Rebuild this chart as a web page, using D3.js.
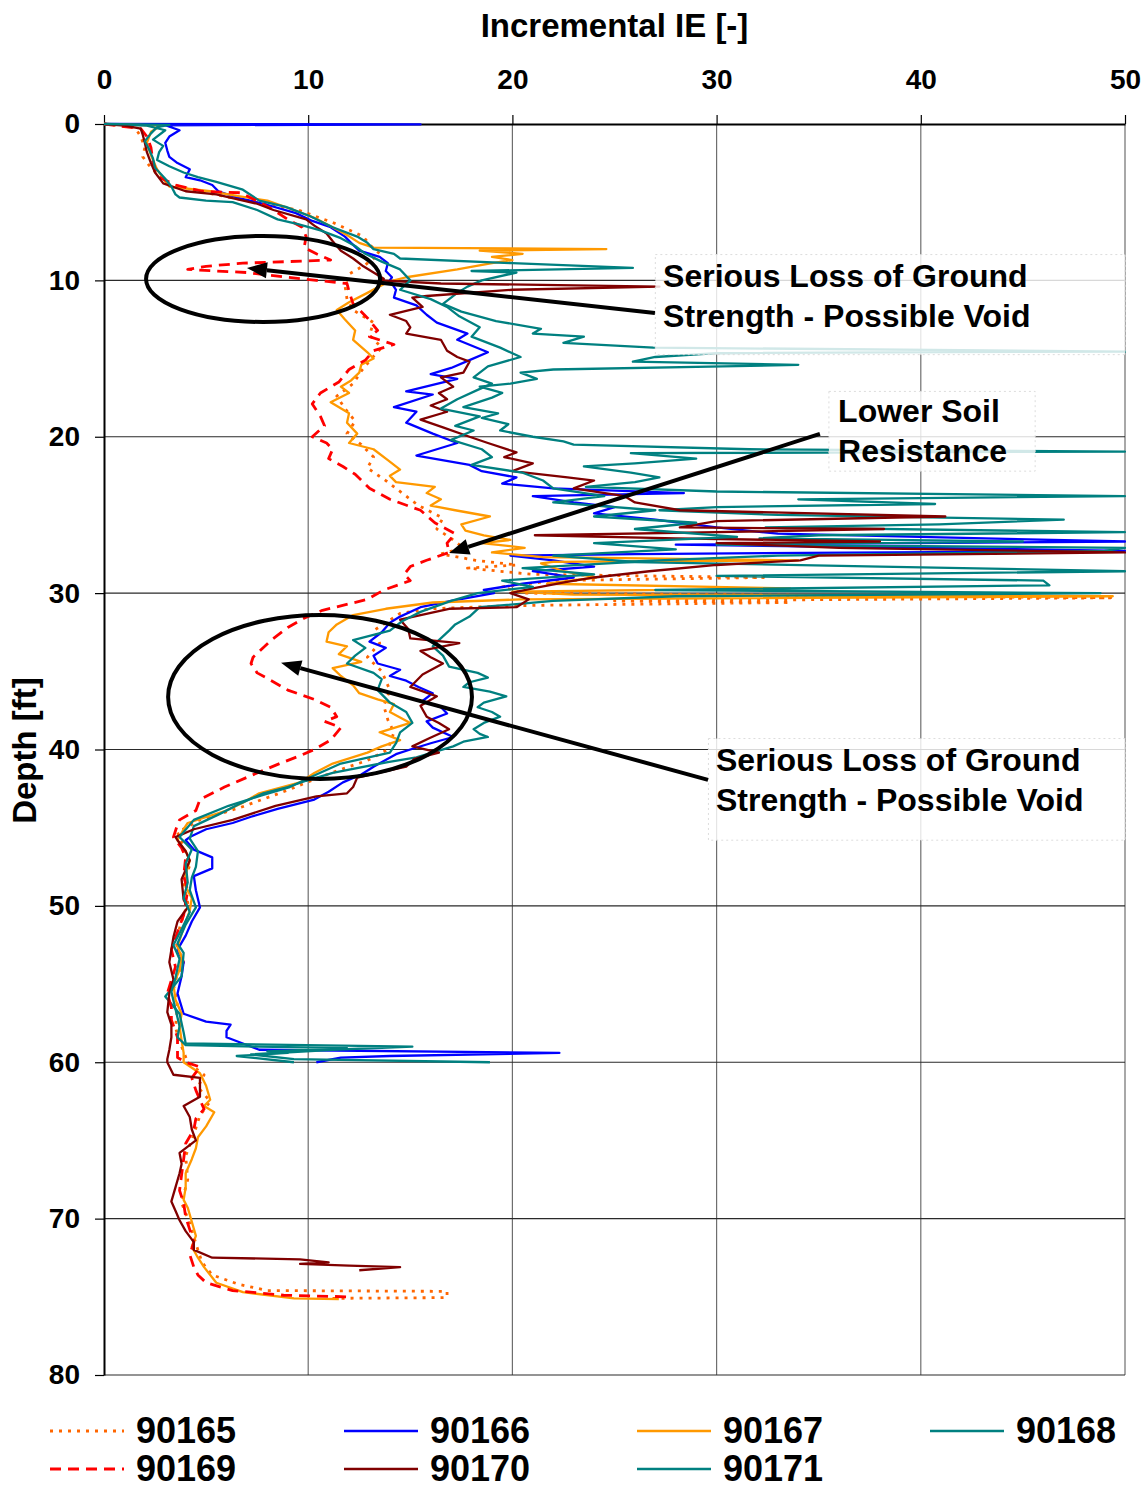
<!DOCTYPE html>
<html>
<head>
<meta charset="utf-8">
<title>Incremental IE vs Depth</title>
<script src="https://cdn.jsdelivr.net/npm/d3@7"></script>
<style>
  body { margin: 0; background: #fff; }
  svg { display: block; font-family: "Liberation Sans", Arial, sans-serif; font-weight: bold; }
</style>
</head>
<body>
<script>
'use strict';

// Data: [depth (ft), incremental IE (-)]
const s90165 = [[0,0],[0.2,1.5],[0.8,1.8],[1.5,2.0],[2.1,1.9],[2.8,2.3],[3.8,3.1],[4.4,5.0],[4.9,7.0],[5.5,9.5],[6.3,11.2],[7.2,12.7],[7.7,13.0],[8.3,13.5],[9.0,12.8],[9.6,12.0],[10.3,11.8],[11.2,11.9],[11.9,12.2],[12.7,13.2],[13.5,13.0],[14.3,13.6],[15.0,13.1],[15.8,12.6],[16.6,12.2],[17.4,11.4],[18.2,11.8],[19.0,12.3],[19.8,11.9],[20.5,12.6],[21.3,13.2],[22.0,12.9],[22.8,13.8],[23.6,14.6],[24.4,15.4],[25.2,16.6],[25.9,16.3],[26.5,17.0],[27.1,17.6],[27.5,16.5],[27.9,18.2],[28.2,20.2],[28.4,17.8],[28.8,21.0],[29.0,32.3],[29.2,22.0],[29.6,19.5],[30.0,20.5],[30.3,49.3],[30.5,25.0],[30.6,33.6],[30.8,20.0],[31.0,16.0],[31.3,14.5],[32.4,13.2],[33.2,13.5],[34.1,12.9],[35.0,13.6],[36.2,14.0],[37.2,13.7],[38.1,13.9],[38.9,14.2],[40.0,13.9],[40.7,12.9],[41.1,12.0],[41.8,10.5],[42.6,9.0],[43.7,6.7],[44.5,4.7],[45.3,3.6],[46.2,3.9],[47.4,4.2],[48.5,3.9],[49.8,4.1],[51.0,3.8],[52.3,3.5],[53.6,3.9],[55.0,3.4],[56.4,3.6],[57.8,3.5],[59.0,3.8],[60.0,4.1],[60.8,4.9],[61.6,4.6],[62.5,5.2],[63.4,4.7],[64.6,4.4],[66.0,4.0],[67.5,4.1],[69.0,3.8],[70.3,4.2],[71.6,4.5],[72.8,4.8],[73.6,5.3],[74.2,6.6],[74.6,8.0],[74.65,16.8],[75.05,16.8],[75.1,11.0]];

const s90166 = [[0,0],[0.03,15.5],[0.08,3.0],[0.4,3.7],[0.8,3.2],[1.2,3.0],[1.7,3.1],[2.1,3.2],[2.5,3.6],[2.9,4.2],[3.4,4.0],[3.6,4.7],[3.9,5.3],[4.3,5.6],[4.7,6.5],[5.1,7.8],[5.7,9.4],[6.2,10.2],[6.6,11.1],[7.2,11.8],[7.6,12.1],[8.1,12.5],[8.5,13.5],[8.9,13.9],[9.4,13.8],[9.8,14.1],[10.0,14.0],[10.6,14.3],[11.1,14.2],[11.6,15.3],[12.2,15.8],[12.7,16.3],[13.4,17.8],[13.8,17.3],[14.6,18.8],[15.1,17.9],[15.6,17.0],[16.0,16.0],[16.3,17.3],[17.1,14.8],[17.3,16.1],[18.1,14.2],[18.4,15.3],[19.1,14.8],[19.8,16.1],[20.4,17.3],[21.2,15.3],[21.8,17.9],[22.2,18.5],[22.6,20.2],[23.0,19.5],[23.3,22.0],[23.6,28.4],[23.8,21.0],[24.2,23.0],[24.5,25.0],[24.9,24.0],[25.3,27.0],[25.8,30.0],[26.2,33.0],[26.7,50],[26.9,28.0],[27.1,40.0],[27.3,50],[27.5,26.0],[27.6,19.9],[27.9,22.0],[28.3,24.0],[28.6,21.0],[29.0,23.0],[29.4,20.5],[29.8,18.6],[30.0,19.1],[30.5,17.0],[30.9,15.5],[31.5,14.5],[31.9,14.0],[32.5,13.6],[33.1,13.0],[33.5,13.8],[34.0,13.2],[34.5,13.4],[34.9,14.5],[35.3,14.0],[35.6,14.8],[36.0,15.4],[36.4,16.1],[36.9,15.6],[37.3,16.5],[37.7,16.8],[38.2,15.8],[38.6,16.1],[39.2,17.1],[39.6,16.0],[40.0,15.0],[40.3,14.3],[41.1,13.2],[41.6,12.6],[42.1,11.7],[42.7,11.0],[43.2,10.3],[43.8,8.5],[44.3,7.2],[44.7,6.3],[45.1,5.0],[45.6,4.2],[45.8,4.0],[46.4,4.4],[46.9,5.3],[47.6,5.3],[48.1,4.4],[49.0,4.5],[50.1,4.7],[51.0,4.3],[51.9,4.0],[52.8,3.6],[53.6,3.9],[54.5,3.8],[55.6,3.6],[56.9,3.9],[57.4,5.0],[57.6,6.2],[58.0,6.0],[58.4,6.0],[58.8,6.8],[59.2,7.6],[59.4,22.3],[59.6,14.0],[59.7,11.6],[60.0,10.4]];

const s90167 = [[0,0],[0.1,2.8],[0.5,2.3],[1.2,2.1],[2.0,2.3],[2.9,2.6],[3.5,2.9],[4.0,3.2],[4.3,5.2],[4.6,6.5],[4.9,8.0],[5.5,9.3],[6.0,10.3],[6.6,11.2],[7.1,11.9],[7.6,12.5],[7.9,13.2],[8.0,24.6],[8.1,18.4],[8.3,20.5],[8.5,19.0],[8.7,20.0],[8.9,19.0],[9.3,17.3],[9.8,14.8],[10.1,13.9],[10.8,12.9],[11.4,12.0],[11.9,11.4],[12.5,11.8],[13.2,12.3],[13.8,12.2],[14.6,12.9],[15.0,13.2],[15.4,12.6],[15.9,12.5],[16.4,12.1],[16.8,11.6],[17.2,12.0],[17.8,11.1],[18.5,12.0],[19.1,11.9],[19.8,12.4],[20.4,12.0],[20.8,13.2],[21.5,13.9],[22.1,14.5],[22.5,14.0],[22.9,14.3],[23.2,16.2],[23.6,15.8],[24.0,16.5],[24.4,16.0],[24.7,17.2],[25.1,18.9],[25.6,17.5],[26.0,17.7],[26.3,18.6],[26.6,19.9],[26.8,18.5],[27.1,20.6],[27.4,19.0],[27.7,21.5],[27.9,34.0],[28.0,22.0],[28.1,21.4],[28.6,22.5],[29.0,24.1],[29.4,21.7],[29.7,33.6],[29.9,20.0],[30.1,23.0],[30.2,49.4],[30.4,20.4],[30.6,16.1],[31.0,13.8],[31.4,12.2],[32.0,11.4],[32.5,11.0],[33.1,10.9],[33.4,11.9],[33.9,11.5],[34.4,12.6],[34.8,11.2],[35.3,11.6],[35.9,12.2],[36.4,12.5],[36.8,13.4],[37.1,14.2],[37.6,14.0],[38.3,15.0],[38.9,13.5],[39.4,14.5],[39.8,13.6],[40.2,12.9],[40.9,11.2],[41.5,10.3],[42.1,9.6],[42.8,7.6],[43.4,6.8],[43.9,6.0],[44.7,4.1],[45.1,3.9],[45.8,3.6],[46.5,4.0],[47.1,4.2],[48.0,4.0],[48.8,4.0],[49.5,4.3],[50.3,4.2],[51.4,3.9],[52.6,3.6],[53.3,3.8],[54.1,3.7],[55.0,3.4],[56.0,3.5],[56.9,3.8],[57.7,3.7],[58.6,3.8],[59.4,3.9],[60.0,3.9],[60.7,4.7],[61.5,5.0],[62.4,5.2],[62.8,4.9],[63.2,5.4],[64.1,5.0],[64.8,4.6],[65.5,4.5],[66.2,4.3],[67.1,4.0],[68.0,4.0],[68.8,3.9],[69.3,4.1],[70.2,4.3],[71.1,4.5],[71.8,4.3],[72.5,4.6],[73.1,4.9],[74.1,5.5],[74.7,6.8],[75.1,9.3],[75.15,11.5]];

const s90168 = [[0,0],[0.1,2.1],[0.4,3.0],[1.0,2.4],[1.4,2.9],[1.8,2.7],[2.3,2.6],[2.7,3.2],[3.1,3.9],[3.4,4.6],[3.7,5.5],[4.2,6.8],[4.9,7.6],[5.3,8.9],[5.9,10.1],[6.6,11.2],[7.2,12.4],[7.6,12.9],[8.0,13.2],[8.3,14.2],[8.6,14.5],[8.9,20.0],[9.2,25.9],[9.4,18.0],[9.5,20.2],[10.0,18.5],[10.4,17.8],[10.8,17.3],[11.5,16.6],[12.0,17.5],[12.6,19.2],[13.1,21.4],[13.4,21.0],[13.6,23.5],[14.0,22.5],[14.3,26.9],[14.55,50],[14.65,30.0],[14.9,27.0],[15.2,25.9],[15.4,34.0],[15.5,30.3],[15.7,22.0],[15.9,20.4],[16.3,21.2],[16.6,19.9],[16.8,18.4],[17.2,19.5],[17.5,19.0],[18.1,17.6],[18.5,19.3],[18.8,18.5],[19.2,19.8],[19.6,19.4],[20.0,21.0],[20.3,22.5],[20.5,23.0],[20.8,31.6],[20.95,50],[21.05,25.8],[21.4,29.0],[21.7,26.0],[21.9,23.5],[22.3,25.8],[22.6,27.2],[22.9,26.0],[23.2,23.6],[23.5,30.0],[23.8,50],[24.0,34.0],[24.3,40.7],[24.5,30.0],[24.7,27.2],[25.0,33.0],[25.3,47.0],[25.6,40.9],[25.8,32.4],[26.1,50],[26.3,35.0],[26.5,32.1],[26.7,45.0],[26.9,30.0],[27.1,50],[27.3,49.0],[27.6,33.0],[28.0,25.3],[28.3,38.0],[28.6,50],[28.9,30.0],[29.2,46.0],[29.5,46.3],[29.8,27.0],[30.0,48.8],[30.2,28.0],[30.5,22.0],[30.9,18.4],[31.5,17.9],[32.0,17.2],[32.4,16.9],[33.0,16.4],[33.4,16.1],[34.0,16.6],[34.7,16.9],[35.1,18.3],[35.4,18.8],[35.7,17.9],[36.0,17.6],[36.3,18.9],[36.6,19.7],[37.0,18.6],[37.3,18.3],[37.6,19.0],[37.9,19.4],[38.3,18.6],[38.7,18.1],[39.0,18.4],[39.2,18.8],[39.5,17.6],[39.8,17.1],[40.5,15.3],[40.8,13.9],[41.5,11.2],[42.0,9.9],[42.4,9.0],[42.8,7.8],[43.5,6.6],[44.1,5.7],[44.9,4.4],[45.7,4.2],[46.5,4.6],[47.5,4.5],[48.2,4.3],[49.0,4.2],[50.1,4.5],[51.2,4.0],[52.4,3.6],[53.0,3.9],[54.5,3.8],[55.8,3.0],[56.9,3.7],[58.1,3.9],[58.8,4.0],[59.0,15.1],[59.2,11.2],[59.5,7.2],[59.8,9.3],[60.0,18.9]];

const s90169 = [[0,0],[0.3,1.8],[0.8,2.1],[1.5,2.3],[2.5,2.4],[3.4,2.7],[3.9,3.5],[4.3,4.8],[4.4,6.7],[5.0,7.6],[5.5,8.3],[6.1,9.0],[6.6,9.7],[7.2,9.9],[7.9,9.8],[8.3,10.4],[8.7,11.1],[8.8,9.0],[8.9,6.8],[9.1,5.0],[9.3,4.1],[9.4,5.5],[9.5,7.0],[9.8,9.0],[10.0,10.4],[10.2,11.9],[10.7,12.0],[11.5,12.2],[12.0,12.6],[12.4,12.9],[13.2,13.4],[13.6,13.0],[14.1,14.2],[14.5,13.2],[15.1,12.8],[15.7,12.0],[16.5,11.5],[17.2,10.6],[17.9,10.2],[18.7,10.6],[19.3,10.8],[20.0,10.2],[20.4,10.9],[20.8,11.2],[21.4,11.0],[21.9,11.7],[22.4,12.3],[23.3,13.0],[24.0,14.0],[24.7,15.5],[25.5,16.2],[26.2,17.2],[26.8,16.8],[27.4,16.9],[27.9,15.8],[28.3,15.0],[28.8,14.7],[29.2,15.0],[29.8,13.7],[30.4,12.9],[31.1,10.7],[31.6,9.8],[32.2,9.0],[33.0,8.2],[34.1,7.3],[34.5,7.2],[35.1,7.5],[35.6,8.2],[36.2,9.0],[36.8,10.3],[37.3,11.1],[37.9,11.4],[38.2,10.8],[38.6,11.6],[39.4,11.1],[40.0,10.3],[40.4,9.6],[40.9,8.6],[41.5,7.5],[42.4,5.9],[43.2,4.7],[43.9,4.5],[44.5,3.7],[44.8,3.6],[45.6,3.4],[46.3,3.8],[46.9,4.0],[48.1,3.9],[49.0,4.1],[49.8,4.0],[50.6,3.9],[51.3,3.7],[52.8,3.3],[53.9,3.5],[55.6,3.1],[56.5,3.3],[57.3,3.3],[58.4,3.6],[59.7,3.6],[60.0,4.0],[60.3,4.7],[61.0,4.3],[61.8,4.5],[63.0,4.9],[63.6,4.5],[64.3,4.4],[65.2,4.0],[66.2,3.9],[67.2,3.8],[68.2,3.7],[69.0,3.9],[69.9,4.0],[70.7,4.2],[71.5,4.4],[72.3,4.2],[73.1,4.4],[73.6,4.6],[74.1,5.0],[74.6,6.3],[74.9,8.8],[75.0,11.9]];

const s90170 = [[0,0],[0.1,1.0],[0.3,1.8],[0.7,1.9],[1.2,2.0],[1.8,2.1],[2.5,2.3],[3.1,2.5],[3.8,2.9],[4.3,4.0],[4.5,5.5],[4.8,6.5],[5.1,7.5],[5.5,8.3],[6.1,9.9],[6.5,10.3],[7.0,10.9],[7.5,11.2],[8.1,11.6],[8.6,12.2],[9.1,12.7],[9.5,13.2],[9.9,13.7],[10.0,13.5],[10.2,16.5],[10.4,27.2],[10.6,20.0],[11.0,15.8],[11.1,15.1],[11.7,15.6],[12.2,14.0],[12.6,14.8],[13.0,15.0],[13.4,14.8],[13.8,16.5],[14.5,16.8],[14.9,17.3],[15.2,17.9],[15.9,17.6],[16.2,16.5],[16.8,17.1],[17.2,16.4],[17.6,16.8],[18.0,16.0],[18.4,16.8],[18.9,15.5],[19.4,16.6],[20.0,17.9],[20.4,18.8],[21.0,20.2],[21.3,19.6],[21.7,21.0],[22.2,20.0],[22.6,22.7],[22.8,24.0],[23.3,23.0],[23.8,25.5],[24.2,26.0],[24.7,28.2],[25.1,41.2],[25.4,30.0],[25.8,28.2],[25.9,38.2],[26.1,30.0],[26.3,21.1],[26.5,28.0],[26.7,38.0],[26.8,30.0],[27.1,36.0],[27.4,50],[27.6,35.0],[27.9,34.1],[28.2,30.0],[28.6,26.7],[29.0,24.0],[29.3,22.6],[29.7,21.0],[30.0,19.9],[30.4,20.8],[30.9,20.2],[31.0,16.9],[31.7,14.5],[32.3,14.9],[32.9,15.0],[33.2,17.4],[33.7,15.5],[34.1,16.0],[34.5,16.6],[35.2,15.6],[36.0,15.0],[36.6,16.3],[37.2,15.5],[37.9,15.8],[38.3,16.4],[38.7,16.9],[39.3,15.9],[39.8,15.1],[40.2,16.4],[40.6,15.2],[41.1,14.8],[41.8,12.4],[42.4,12.2],[42.8,11.9],[43.0,10.4],[43.6,8.4],[44.5,6.3],[45.1,4.4],[45.6,3.5],[45.8,3.6],[46.5,4.0],[47.1,4.2],[48.3,3.8],[49.6,3.9],[50.1,4.1],[51.0,3.6],[52.0,3.4],[53.6,3.2],[54.7,3.4],[55.6,3.2],[56.8,3.1],[57.6,3.3],[58.4,3.3],[59.2,3.2],[59.8,3.1],[60.0,3.1],[60.8,3.4],[61.0,4.7],[62.2,4.7],[62.8,3.9],[63.5,4.2],[64.3,4.3],[65.0,4.5],[65.8,3.7],[66.5,3.8],[67.1,3.7],[68.0,3.5],[68.9,3.3],[69.5,3.5],[70.1,3.7],[70.8,4.0],[71.5,4.4],[72.0,4.4],[72.5,5.3],[72.6,9.6],[72.8,11.0],[72.9,9.6],[73.0,12.0],[73.1,14.5],[73.3,12.5]];

const s90171 = [[0,0],[0.05,3.2],[0.2,2.6],[0.6,2.3],[1.1,2.0],[1.6,2.2],[2.2,2.4],[2.8,2.5],[3.5,3.0],[4.0,3.3],[4.5,3.5],[4.7,3.7],[4.9,5.0],[5.0,6.3],[5.5,7.5],[6.1,8.5],[6.4,9.5],[6.8,10.6],[7.3,11.6],[7.8,12.3],[8.3,12.8],[8.8,13.6],[9.3,14.5],[10.0,15.0],[10.6,14.5],[11.2,16.0],[11.7,16.8],[12.3,17.4],[13.0,18.4],[13.6,18.0],[14.3,19.4],[14.9,20.4],[15.5,18.8],[16.2,18.1],[16.6,19.0],[17.0,18.3],[17.6,17.3],[18.2,16.5],[18.7,18.4],[19.3,17.2],[19.6,18.1],[20.2,17.0],[20.8,18.5],[21.3,19.0],[21.8,18.0],[22.3,20.5],[22.8,21.5],[23.3,22.0],[23.8,24.5],[24.2,22.0],[24.7,27.0],[25.1,24.0],[25.5,29.0],[25.9,26.0],[26.4,31.0],[26.8,24.0],[27.2,28.0],[27.6,22.0],[28.0,26.0],[28.4,20.5],[28.8,24.0],[29.2,19.5],[29.6,21.0],[30.0,18.3],[30.5,17.0],[31.2,15.5],[31.8,14.6],[32.4,14.0],[33.0,12.2],[33.5,12.8],[34.0,12.3],[34.5,11.9],[35.1,13.2],[35.5,13.6],[36.2,13.4],[37.0,14.0],[37.6,14.8],[38.3,15.1],[38.9,14.5],[39.6,14.3],[40.2,14.0],[40.9,11.6],[41.6,10.4],[42.4,9.1],[42.9,7.8],[43.6,6.1],[44.5,4.4],[45.6,3.7],[46.4,4.3],[47.3,4.0],[48.5,4.1],[49.5,3.9],[50.4,4.2],[51.5,3.8],[52.5,3.4],[53.4,3.7],[54.6,3.5],[55.5,3.3],[56.6,3.5],[57.7,3.7],[58.4,3.6],[58.9,4.0],[59.0,7.6],[59.1,11.9],[59.3,8.0],[59.4,9.0],[59.6,6.5],[60.0,9.3]];

const seriesNames = ['90165', '90166', '90167', '90168', '90169', '90170', '90171'];
const seriesData = [s90165, s90166, s90167, s90168, s90169, s90170, s90171];
const seriesColors = ['#FF6600', '#0000FF', '#FF9900', '#008080', '#FF0000', '#800000', '#008080'];
const seriesDash = ['3,6', null, null, null, '11,7', null, null];

const xTicks = [0, 10, 20, 30, 40, 50];
const yTicks = [0, 10, 20, 30, 40, 50, 60, 70, 80];

// Annotations, in data units: [IE, depth]
const ellipses = [
  { c: [7.79, 9.91], r: [5.73, 2.75] },
  { c: [10.58, 36.64], r: [7.44, 5.24] }
];
const arrows = [
  { from: [26.98, 12.08], to: [7.0, 9.21] },
  { from: [35.06, 19.82], to: [16.9, 27.43] },
  { from: [29.58, 41.94], to: [8.67, 34.46] }
];
const notes = [
  { at: [27.38, 10.42], lines: ['Serious Loss of Ground', 'Strength - Possible Void'], box: [27.0, 8.35, 50, 14.75] },
  { at: [35.95, 19.05], lines: ['Lower Soil', 'Resistance'], box: [35.5, 17.1, 45.6, 22.2] },
  { at: [29.97, 41.37], lines: ['Serious Loss of Ground', 'Strength - Possible Void'], box: [29.6, 39.3, 50, 45.8] }
];

// Layout
const W = 1148, H = 1488;
const plot = { left: 104, right: 1125, top: 124, bottom: 1375 };
const legendCols = [50, 344, 637, 930];
const legendRows = [1431, 1469];

const x = d3.scaleLinear().domain([0, 50]).range([plot.left, plot.right]);
const y = d3.scaleLinear().domain([0, 80]).range([plot.top, plot.bottom]);

const svg = d3.select('body').append('svg')
  .attr('width', W)
  .attr('height', H)
  .attr('viewBox', `0 0 ${W} ${H}`);

svg.append('defs').append('clipPath').attr('id', 'plotClip')
  .append('rect')
  .attr('x', plot.left).attr('y', plot.top - 3)
  .attr('width', plot.right - plot.left + 1).attr('height', plot.bottom - plot.top + 3);

// Grid
const grid = svg.append('g').attr('class', 'grid');
grid.selectAll('line.v').data(xTicks.slice(1)).enter().append('line')
  .attr('class', 'v')
  .attr('x1', d => x(d)).attr('x2', d => x(d))
  .attr('y1', plot.top).attr('y2', plot.bottom)
  .attr('stroke', '#6e6e6e').attr('stroke-width', 1.2);
grid.selectAll('line.h').data(yTicks.slice(1)).enter().append('line')
  .attr('class', 'h')
  .attr('x1', plot.left).attr('x2', plot.right)
  .attr('y1', d => y(d)).attr('y2', d => y(d))
  .attr('stroke', '#2a2a2a').attr('stroke-width', 1.2);

// Axes (under the series, as in the original)
const xAxis = svg.append('g')
  .attr('transform', `translate(0,${plot.top})`)
  .call(d3.axisTop(x).tickValues(xTicks).tickSize(9).tickSizeOuter(0).tickPadding(26));
const yAxis = svg.append('g')
  .attr('transform', `translate(${plot.left},0)`)
  .call(d3.axisLeft(y).tickValues(yTicks).tickSize(9).tickSizeOuter(0).tickPadding(15));
[xAxis, yAxis].forEach(ax => {
  ax.select('.domain').attr('stroke', '#000').attr('stroke-width', 2);
  ax.selectAll('.tick line').attr('stroke', '#000').attr('stroke-width', 1.2);
  ax.selectAll('.tick text')
    .attr('fill', '#000')
    .style('font-family', '"Liberation Sans", Arial, sans-serif')
    .style('font-weight', 'bold')
    .style('font-size', '28px');
});

svg.append('text')
  .attr('x', (plot.left + plot.right) / 2).attr('y', 37)
  .attr('text-anchor', 'middle')
  .style('font-size', '33px')
  .text('Incremental IE [-]');
svg.append('text')
  .attr('transform', `translate(36,${(plot.top + plot.bottom) / 2 + 1}) rotate(-90)`)
  .attr('text-anchor', 'middle')
  .style('font-size', '33px')
  .text('Depth [ft]');

// Series
const line = d3.line().x(d => x(d[1])).y(d => y(d[0]));
const lines = svg.append('g').attr('clip-path', 'url(#plotClip)');
seriesData.forEach((data, i) => {
  lines.append('path')
    .datum(data)
    .attr('d', line)
    .attr('fill', 'none')
    .attr('stroke', seriesColors[i])
    .attr('stroke-width', seriesDash[i] ? 2.8 : 2.3)
    .attr('stroke-linejoin', 'round')
    .attr('stroke-dasharray', seriesDash[i]);
});

// Annotations
const notesG = svg.append('g');
notes.forEach(n => {
  notesG.append('rect')
    .attr('x', x(n.box[0])).attr('y', y(n.box[1]))
    .attr('width', x(n.box[2]) - x(n.box[0]))
    .attr('height', y(n.box[3]) - y(n.box[1]))
    .attr('fill', '#fff').attr('fill-opacity', 0.82)
    .attr('stroke', '#dcdcdc').attr('stroke-width', 1).attr('stroke-dasharray', '2,3');
  n.lines.forEach((t, k) => {
    notesG.append('text')
      .attr('x', x(n.at[0])).attr('y', y(n.at[1]) + k * 40)
      .style('font-size', '32px')
      .text(t);
  });
});

ellipses.forEach(e => {
  svg.append('ellipse')
    .attr('cx', x(e.c[0])).attr('cy', y(e.c[1]))
    .attr('rx', x(e.r[0]) - x(0)).attr('ry', y(e.r[1]) - y(0))
    .attr('fill', 'none').attr('stroke', '#000').attr('stroke-width', 4);
});

arrows.forEach(a => {
  const x1 = x(a.from[0]), y1 = y(a.from[1]);
  const x2 = x(a.to[0]), y2 = y(a.to[1]);
  const ang = Math.atan2(y2 - y1, x2 - x1);
  const len = 20, half = 8;
  const bx = x2 - len * Math.cos(ang), by = y2 - len * Math.sin(ang);
  svg.append('line')
    .attr('x1', x1).attr('y1', y1).attr('x2', bx).attr('y2', by)
    .attr('stroke', '#000').attr('stroke-width', 4);
  svg.append('path')
    .attr('d', `M${x2},${y2}L${bx + half * Math.sin(ang)},${by - half * Math.cos(ang)}L${bx - half * Math.sin(ang)},${by + half * Math.cos(ang)}Z`)
    .attr('fill', '#000');
});

// Legend
const legend = svg.append('g');
seriesNames.forEach((name, i) => {
  const lx = legendCols[i % 4], ly = legendRows[Math.floor(i / 4)];
  legend.append('line')
    .attr('x1', lx).attr('x2', lx + 74)
    .attr('y1', ly).attr('y2', ly)
    .attr('stroke', seriesColors[i])
    .attr('stroke-width', seriesDash[i] ? 3 : 2.4)
    .attr('stroke-dasharray', seriesDash[i]);
  legend.append('text')
    .attr('x', lx + 86).attr('y', ly + 12)
    .style('font-size', '36px')
    .text(name);
});
</script>
</body>
</html>
